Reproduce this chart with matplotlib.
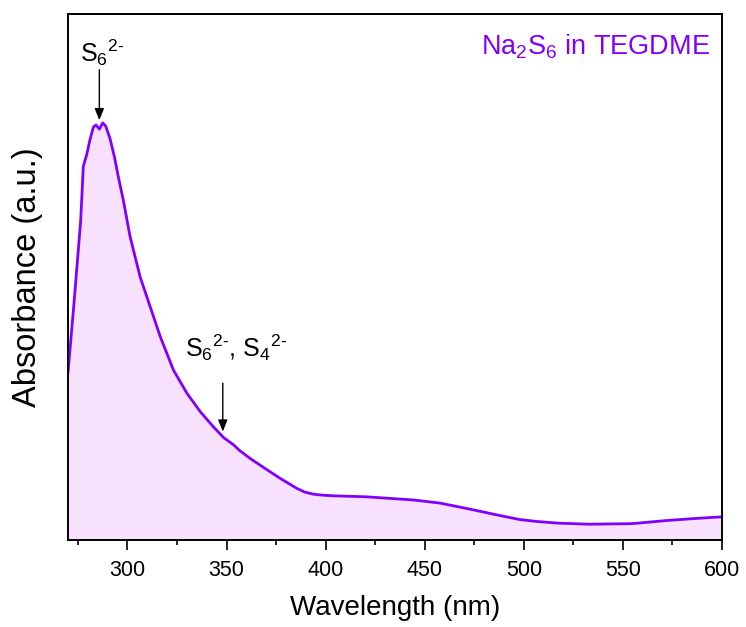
import numpy as np
import matplotlib
matplotlib.use('Agg')
import matplotlib.pyplot as plt

plt.rcParams['font.family'] = ['Liberation Sans', 'DejaVu Sans']
plt.rcParams['mathtext.fontset'] = 'custom'
plt.rcParams['mathtext.rm'] = 'Liberation Sans'
plt.rcParams['mathtext.it'] = 'Liberation Sans'

# UV-vis spectrum (absorbance in arbitrary units)
wavelength = [270, 273, 276.4, 277.7, 278.6, 279.4, 281, 282.8, 284.1, 285.8,
              287.5, 289, 291.2, 293.5, 295.4, 297.9, 301.3, 306.4, 311.4, 316.5,
              323.2, 330.0, 336.7, 343.4, 348.4, 353.5, 356.6, 361.9, 367.0, 377.1,
              385.5, 389.5, 393.9, 399, 404.0, 420.9, 432.6, 444.4, 457.9, 473.6,
              486, 497.7, 507, 517.4, 532.8, 554.6, 572.1, 587, 600]
absorbance = [0.319, 0.45, 0.608, 0.71, 0.722, 0.732, 0.760, 0.785, 0.789, 0.781,
              0.793, 0.787, 0.763, 0.727, 0.690, 0.646, 0.577, 0.50, 0.444, 0.387,
              0.323, 0.279, 0.244, 0.215, 0.195, 0.181, 0.170, 0.155, 0.142, 0.117,
              0.098, 0.091, 0.087, 0.085, 0.084, 0.082, 0.079, 0.076, 0.070, 0.058,
              0.048, 0.039, 0.035, 0.032, 0.030, 0.031, 0.037, 0.041, 0.044]

line_color = '#8000FF'
fill_color = '#F7E1FC'

fig = plt.figure(figsize=(7.46, 6.27), dpi=100)
ax = fig.add_axes([0.0912, 0.1388, 0.8766, 0.8389])

ax.fill_between(wavelength, 0, absorbance, color=fill_color, lw=0)
ax.plot(wavelength, absorbance, color=line_color, lw=2)

ax.set_xlim(270, 600)
ax.set_ylim(0, 1)
ax.set_xticks([300, 350, 400, 450, 500, 550, 600])
ax.set_xticks(np.arange(275, 600, 50), minor=True)
ax.set_yticks([])
ax.tick_params(axis='x', which='major', direction='out', length=7, width=1.2,
               pad=7.5, labelsize=15.5)
ax.tick_params(axis='x', which='minor', direction='out', length=3.6, width=1.2)
for s in ax.spines.values():
    s.set_linewidth(1.4)

ax.set_xlabel('Wavelength (nm)', fontsize=20, labelpad=10)
ax.set_ylabel('Absorbance (a.u.)', fontsize=23.5, labelpad=18)

# peak markers: arrows and labels drawn separately
arrow = dict(arrowstyle='-|>,head_length=0.5,head_width=0.2', color='black',
             lw=1, mutation_scale=14, shrinkA=0, shrinkB=0)
ax.annotate('', xy=(285.8, 0.798), xytext=(285.8, 0.894), arrowprops=arrow)
ax.text(287.4, 0.897, r'S$_6$$^{2\text{-}}$', fontsize=18, ha='center', va='bottom')
ax.annotate('', xy=(348.1, 0.206), xytext=(348.1, 0.298), arrowprops=arrow)
ax.text(354.6, 0.337, r'S$_6$$^{2\text{-}}$, S$_4$$^{2\text{-}}$', fontsize=18,
        ha='center', va='bottom')

ax.text(0.982, 0.937, 'Na$_2$S$_6$ in TEGDME', transform=ax.transAxes,
        color=line_color, fontsize=19.5, ha='right', va='center')

plt.savefig('out.png', dpi=100)
